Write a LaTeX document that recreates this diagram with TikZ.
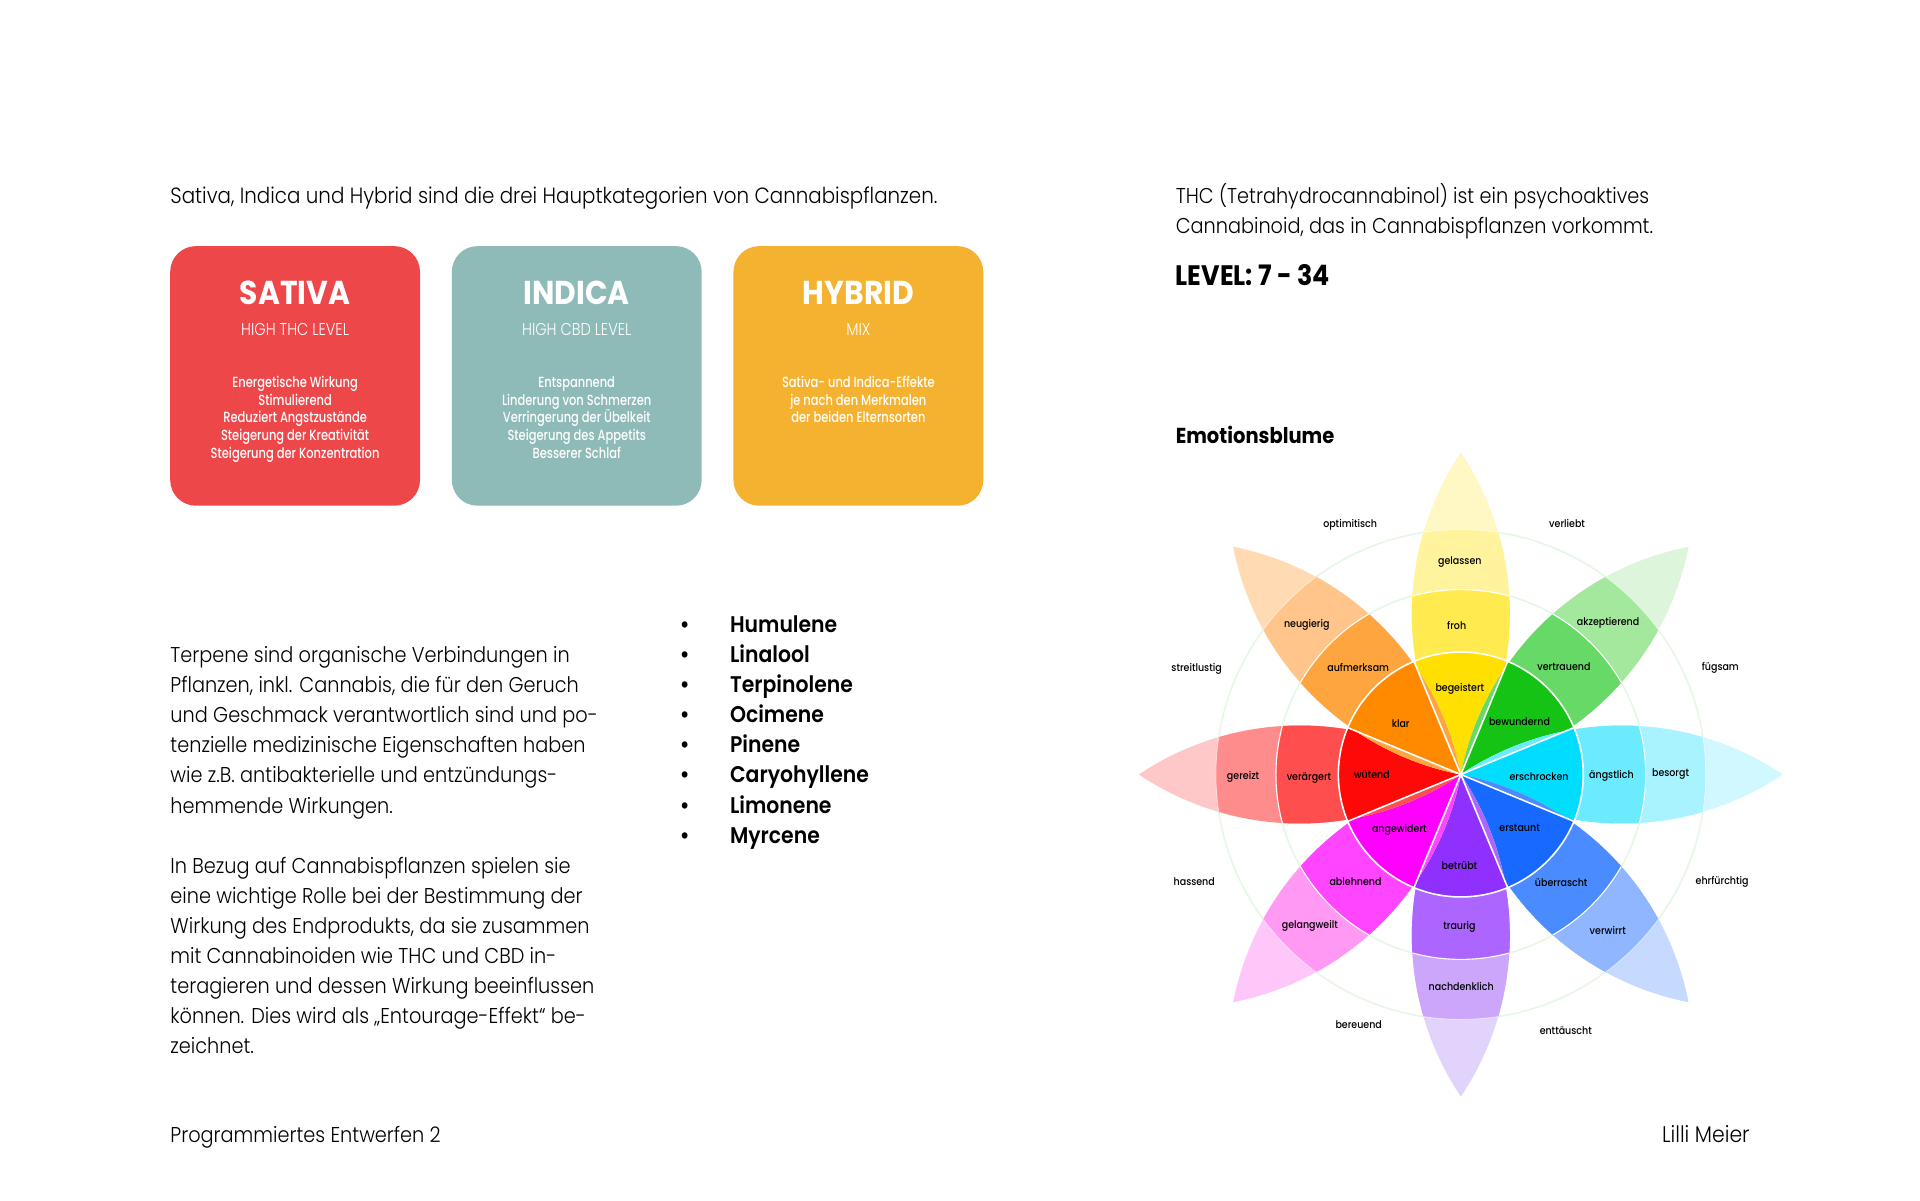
\documentclass[tikz,border=0pt]{standalone}
\usepackage{fontspec}
\setmainfont{Poppins}[FakeStretch=0.9]
\IfFontExistsTF{Poppins Light}
  {\newfontfamily\bodyfont{Poppins Light}[FakeStretch=0.9]
   \newfontfamily\subfont{Poppins Light}[FakeStretch=0.85]}
  {\newfontfamily\bodyfont{Poppins}[FakeStretch=0.9]
   \newfontfamily\subfont{Poppins}[FakeStretch=0.85]}
\IfFontExistsTF{Poppins SemiBold}
  {\newfontfamily\semifont{Poppins SemiBold}[FakeStretch=0.9]}
  {\newfontfamily\semifont{Poppins}[FakeStretch=0.9,FakeBold=1.5]}
\IfFontExistsTF{Poppins Medium}
  {\newfontfamily\medfont{Poppins Medium}[FakeStretch=0.78]
   \newfontfamily\lblfont{Poppins Medium}[FakeStretch=0.9]}
  {\newfontfamily\medfont{Poppins}[FakeStretch=0.78,FakeBold=0.8]
   \newfontfamily\lblfont{Poppins}[FakeStretch=0.9,FakeBold=0.5]}
\newfontfamily\titlefont{Poppins}[FakeStretch=0.9]
\definecolor{sativa}{HTML}{EE474A}
\definecolor{indica}{HTML}{8EBAB8}
\definecolor{hybrid}{HTML}{F5B230}
\definecolor{ringc}{HTML}{E6F7E6}
\definecolor{Ya}{HTML}{FFE000}\definecolor{Yb}{HTML}{FFEB50}\definecolor{Yc}{HTML}{FFF39E}\definecolor{Yd}{HTML}{FFF8C4}
\definecolor{Ga}{HTML}{14C314}\definecolor{Gb}{HTML}{66D966}\definecolor{Gc}{HTML}{A3E89D}\definecolor{Gd}{HTML}{DDF5DA}
\definecolor{Ca}{HTML}{00DDFF}\definecolor{Cb}{HTML}{6CEBFF}\definecolor{Cc}{HTML}{A8F3FF}\definecolor{Cd}{HTML}{D2F8FF}
\definecolor{Ba}{HTML}{1769FF}\definecolor{Bb}{HTML}{4A8BFF}\definecolor{Bc}{HTML}{8FB6FF}\definecolor{Bd}{HTML}{C6DAFF}
\definecolor{Pa}{HTML}{9030FF}\definecolor{Pb}{HTML}{AC66FF}\definecolor{Pc}{HTML}{CBA6FA}\definecolor{Pd}{HTML}{E2D3FD}
\definecolor{Ma}{HTML}{FF00FF}\definecolor{Mb}{HTML}{FF45FF}\definecolor{Mc}{HTML}{FF99F4}\definecolor{Md}{HTML}{FFC6F9}
\definecolor{Ra}{HTML}{FF0808}\definecolor{Rb}{HTML}{FF4E4E}\definecolor{Rc}{HTML}{FF8C8C}\definecolor{Rd}{HTML}{FFC8C8}
\definecolor{Oa}{HTML}{FF8A00}\definecolor{Ob}{HTML}{FFA53F}\definecolor{Oc}{HTML}{FFC58A}\definecolor{Od}{HTML}{FFDAB3}
\begin{document}
\begin{tikzpicture}[x=1pt,y=1pt,
  body/.style={inner sep=0pt, anchor=base west, font=\fontsize{17.5}{21}\selectfont\bodyfont},
  bul/.style={inner sep=0pt, anchor=base west, font=\fontsize{18.5}{21}\selectfont\semifont},
  card/.style={rounded corners=21pt, minimum width=204pt, minimum height=212pt, inner sep=0pt},
  cardtitle/.style={inner sep=0pt, anchor=base, text=white, font=\fontsize{27}{30}\selectfont\titlefont\bfseries},
  cardsub/.style={inner sep=0pt, anchor=base, text=white, font=\fontsize{14}{16}\selectfont\subfont},
  cardline/.style={inner sep=0pt, anchor=base, text=white, font=\fontsize{12}{14}\selectfont\medfont},
  lbl/.style={inner sep=0pt, font=\fontsize{8.6}{10}\selectfont\lblfont},
]
\useasboundingbox (0,0) rectangle (1568,-980);
\fill[white] (0,0) rectangle (1568,-980);

% ---------- top left ----------
\node[body, font=\fontsize{18}{21}\selectfont\bodyfont] (intro) at (139,-166) {Sativa, Indica und Hybrid sind die drei Hauptkategorien von Cannabispflanzen.};

\node[card, fill=sativa] (sat) at (241,-307) {};
\node[card, fill=indica] (ind) at (471,-307) {};
\node[card, fill=hybrid] (hyb) at (701,-307) {};

\node[cardtitle] (satT) at (241,-248.5) {SATIVA};
\node[cardtitle] (indT) at (471,-248.5) {INDICA};
\node[cardtitle] (hybT) at (701,-248.5) {HYBRID};
\node[cardsub] (satS) at (241,-274) {HIGH THC LEVEL};
\node[cardsub] (indS) at (471,-274) {HIGH CBD LEVEL};
\node[cardsub] (hybS) at (701,-274) {MIX};

\foreach \t [count=\i] in {{Energetische Wirkung},{Stimulierend},{Reduziert Angstzustände},{Steigerung der Kreativität},{Steigerung der Konzentration}}
  \node[cardline] (satL\i) at (241,{-316.4-14.5*(\i-1)}) {\t};
\foreach \t [count=\i] in {{Entspannend},{Linderung von Schmerzen},{Verringerung der Übelkeit},{Steigerung des Appetits},{Besserer Schlaf}}
  \node[cardline] (indL\i) at (471,{-316.4-14.5*(\i-1)}) {\t};
\foreach \t [count=\i] in {{Sativa- und Indica-Effekte},{je nach den Merkmalen},{der beiden Elternsorten}}
  \node[cardline] (hybL\i) at (701,{-316.4-14.5*(\i-1)}) {\t};

% ---------- paragraphs ----------
\foreach \t [count=\i] in {{Terpene sind organische Verbindungen in},{Pflanzen, inkl. Cannabis, die für den Geruch},{und Geschmack verantwortlich sind und po-},{tenzielle medizinische Eigenschaften haben},{wie z.B. antibakterielle und entzündungs-},{hemmende Wirkungen.}}
  \node[body] (pa\i) at (139,{-541-24.6*(\i-1)}) {\t};
\foreach \t [count=\i] in {{In Bezug auf Cannabispflanzen spielen sie},{eine wichtige Rolle bei der Bestimmung der},{Wirkung des Endprodukts, da sie zusammen},{mit Cannabinoiden wie THC und CBD in-},{teragieren und dessen Wirkung beeinflussen},{können. Dies wird als „Entourage-Effekt“ be-},{zeichnet.}}
  \node[body] (pb\i) at (139,{-713-24.6*(\i-1)}) {\t};

\foreach \t [count=\i] in {Humulene,Linalool,Terpinolene,Ocimene,Pinene,Caryohyllene,Limonene,Myrcene}{
  \node[bul] (bd\i) at (555,{-516.4-24.6*(\i-1)}) {•};
  \node[bul] (bt\i) at (596,{-516.4-24.6*(\i-1)}) {\t};
}

% ---------- right top ----------
\node[body] (thc1) at (960,-166) {THC (Tetrahydrocannabinol) ist ein psychoaktives};
\node[body] (thc2) at (960,-190.6) {Cannabinoid, das in Cannabispflanzen vorkommt.};
\node[inner sep=0pt, anchor=base west, font=\fontsize{23}{28}\selectfont\bfseries] (lvl) at (960,-233) {LEVEL: 7 - 34};
\node[inner sep=0pt, anchor=base west, font=\fontsize{17.7}{22}\selectfont\bfseries] (emo) at (960,-362) {Emotionsblume};

% ---------- footer ----------
\node[body] (foot1) at (139,-933) {Programmiertes Entwerfen 2};
\node[body, anchor=base east, font=\fontsize{18.5}{21}\selectfont\bodyfont] (foot2) at (1429,-933) {Lilli Meier};

% ---------- flower ----------
\begin{scope}[shift={(1193,-632.5)}]
  \draw[ringc, line width=1.3pt] (0,0) circle (151);
  \draw[ringc, line width=1.3pt] (0,0) circle (200);
  \foreach \rot/\ca/\cb/\cc/\cd in {0/Ya/Yb/Yc/Yd, -45/Ga/Gb/Gc/Gd, -90/Ca/Cb/Cc/Cd, -135/Ba/Bb/Bc/Bd, 180/Pa/Pb/Pc/Pd, 135/Ma/Mb/Mc/Md, 90/Ra/Rb/Rc/Rd, 45/Oa/Ob/Oc/Od}{
    \begin{scope}[rotate=\rot]
      \begin{scope}
        \clip (0,0) arc[start angle=-33.84, end angle=33.84, radius=236.15]
                    arc[start angle=146.16, end angle=213.84, radius=236.15] -- cycle;
        \fill[\cd] (0,0) circle (270);
        \fill[\cc] (0,0) circle (200);
        \fill[\cb] (0,0) circle (151);
        \draw[white, line width=0.9pt] (0,0) circle (151);
        \draw[white, opacity=0.6, line width=0.6pt] (0,0) circle (200);
      \end{scope}
      \fill[\ca] (0,0) -- (67.5:100) arc[start angle=67.5, end angle=112.5, radius=100] -- cycle;
    \end{scope}
  }
  \foreach \a in {22.5,67.5,...,337.5}
    \draw[white, line width=1.3pt] (0,0) -- (\a:100.5);
  \draw[white, line width=1.3pt] (0,0) circle (100);
\end{scope}

% core labels
\node[lbl] (e1) at (1143.9,-591.0) {klar};
\node[lbl] (e2) at (1192.2,-562.6) {begeistert};
\node[lbl] (e3) at (1240.9,-589.5) {bewundernd};
\node[lbl] (e4) at (1256.9,-634.3) {erschrocken};
\node[lbl] (e5) at (1241.0,-676.0) {erstaunt};
\node[lbl] (e6) at (1191.9,-707.3) {betrübt};
\node[lbl] (e7) at (1142.8,-677.8) {angewidert};
\node[lbl] (e8) at (1120.3,-632.4) {wütend};
% ring 2
\node[lbl] (f1) at (1109.2,-544.9) {aufmerksam};
\node[lbl] (f2) at (1189.6,-510.6) {froh};
\node[lbl] (f3) at (1277.2,-544.5) {vertrauend};
\node[lbl] (f4) at (1316.0,-633.8) {ängstlich};
\node[lbl] (f5) at (1275.0,-721.0) {überrascht};
\node[lbl] (f6) at (1191.9,-757.1) {traurig};
\node[lbl] (f7) at (1107.0,-720.2) {ablehnend};
\node[lbl] (f8) at (1069.0,-635.0) {verärgert};
% ring 3
\node[lbl] (g1) at (1067.2,-510.2) {neugierig};
\node[lbl] (g2) at (1192.2,-458.9) {gelassen};
\node[lbl] (g3) at (1313.3,-508.4) {akzeptierend};
\node[lbl] (g4) at (1364.3,-632.1) {besorgt};
\node[lbl] (g5) at (1313.0,-760.1) {verwirrt};
\node[lbl] (g6) at (1193.3,-805.4) {nachdenklich};
\node[lbl] (g7) at (1069.7,-756.4) {gelangweilt};
\node[lbl] (g8) at (1015.2,-634.6) {gereizt};
% outer
\node[lbl] (h1) at (1102.6,-428.7) {optimitisch};
\node[lbl] (h2) at (1279.8,-427.2) {verliebt};
\node[lbl] (h3) at (1404.9,-545.3) {fügsam};
\node[lbl] (h4) at (1406.4,-719.9) {ehrfürchtig};
\node[lbl] (h5) at (1278.7,-841.6) {enttäuscht};
\node[lbl] (h6) at (1109.6,-836.4) {bereuend};
\node[lbl] (h7) at (975.3,-719.9) {hassend};
\node[lbl] (h8) at (977.2,-546.0) {streitlustig};
\end{tikzpicture}
\end{document}
